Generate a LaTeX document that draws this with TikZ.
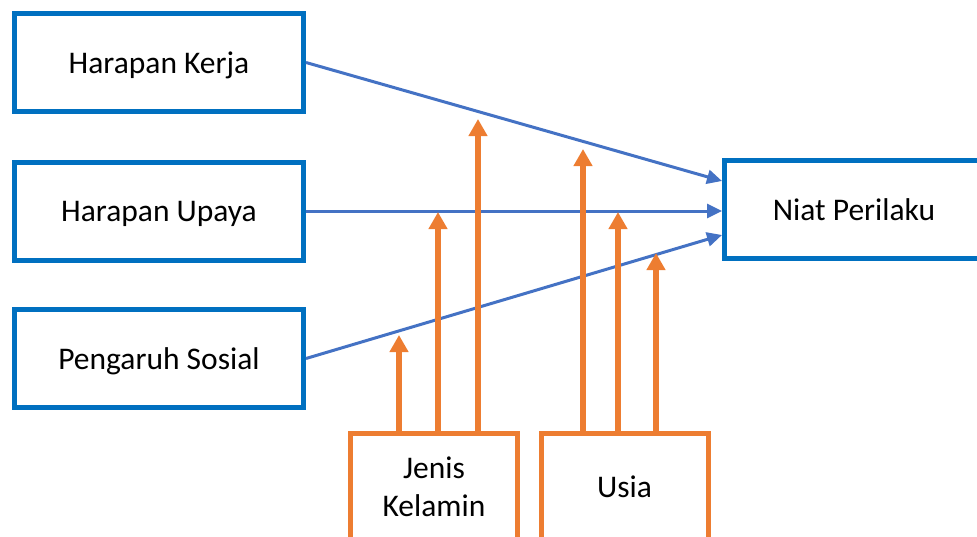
\documentclass[tikz,border=0pt]{standalone}
\usepackage{fontspec}
\setmainfont{Carlito}
\usetikzlibrary{arrows.meta}

\definecolor{boxblue}{HTML}{0070C0}
\definecolor{lineblue}{HTML}{4472C4}
\definecolor{modorange}{HTML}{ED7D31}

\tikzstyle{construct} = [rectangle, minimum width=289pt, minimum height=98pt, text centered, text depth=0pt, draw=boxblue, line width=5pt, fill=white, font=\fontsize{31.5}{38}\selectfont]
\tikzstyle{moderator} = [rectangle, minimum width=167pt, minimum height=106pt, text centered, align=center, draw=modorange, line width=5pt, fill=white, font=\fontsize{31.5}{38}\selectfont]
\tikzstyle{path} = [draw=lineblue, line width=3pt, -{Triangle[length=15pt,width=14pt]}]
\tikzstyle{modarrow} = [draw=modorange, line width=5.5pt, -{Triangle[length=17pt,width=18pt]}]

\begin{document}
\begin{tikzpicture}[x=1pt, y=-1pt]

    \useasboundingbox (0,0) rectangle (977,536);
    \clip (0,0) rectangle (977,536);

    \node (kerja)  [construct] at (159,62.5)   {Harapan Kerja};
    \node (upaya)  [construct] at (159,211)    {Harapan Upaya};
    \node (sosial) [construct] at (159,358.5)  {Pengaruh Sosial};
    \node (niat)   [construct, minimum width=259pt] at (854,209.5) {Niat Perilaku};
    \node (gender) [moderator] at (434,486.5)  {Jenis\\Kelamin};
    \node (usia)   [moderator] at (624.5,486.5) {Usia};

    % tips of the moderating arrows
    \coordinate (gender1) at (399,335);
    \coordinate (gender2) at (438,212);
    \coordinate (gender3) at (478,119);
    \coordinate (usia1)   at (583,149);
    \coordinate (usia2)   at (618,212);
    \coordinate (usia3)   at (656,253);

    \draw [path] (kerja.east)  -- ([yshift=28.5pt]niat.west);
    \draw [path] (upaya.east)  -- (upaya.east -| niat.west);
    \draw [path] (sosial.east) -- ([yshift=-25.5pt]niat.west);

    \draw [modarrow] (gender.north -| gender1) -- (gender1);
    \draw [modarrow] (gender.north -| gender2) -- (gender2);
    \draw [modarrow] (gender.north -| gender3) -- (gender3);
    \draw [modarrow] (usia.north -| usia1)     -- (usia1);
    \draw [modarrow] (usia.north -| usia2)     -- (usia2);
    \draw [modarrow] (usia.north -| usia3)     -- (usia3);

\end{tikzpicture}
\end{document}
